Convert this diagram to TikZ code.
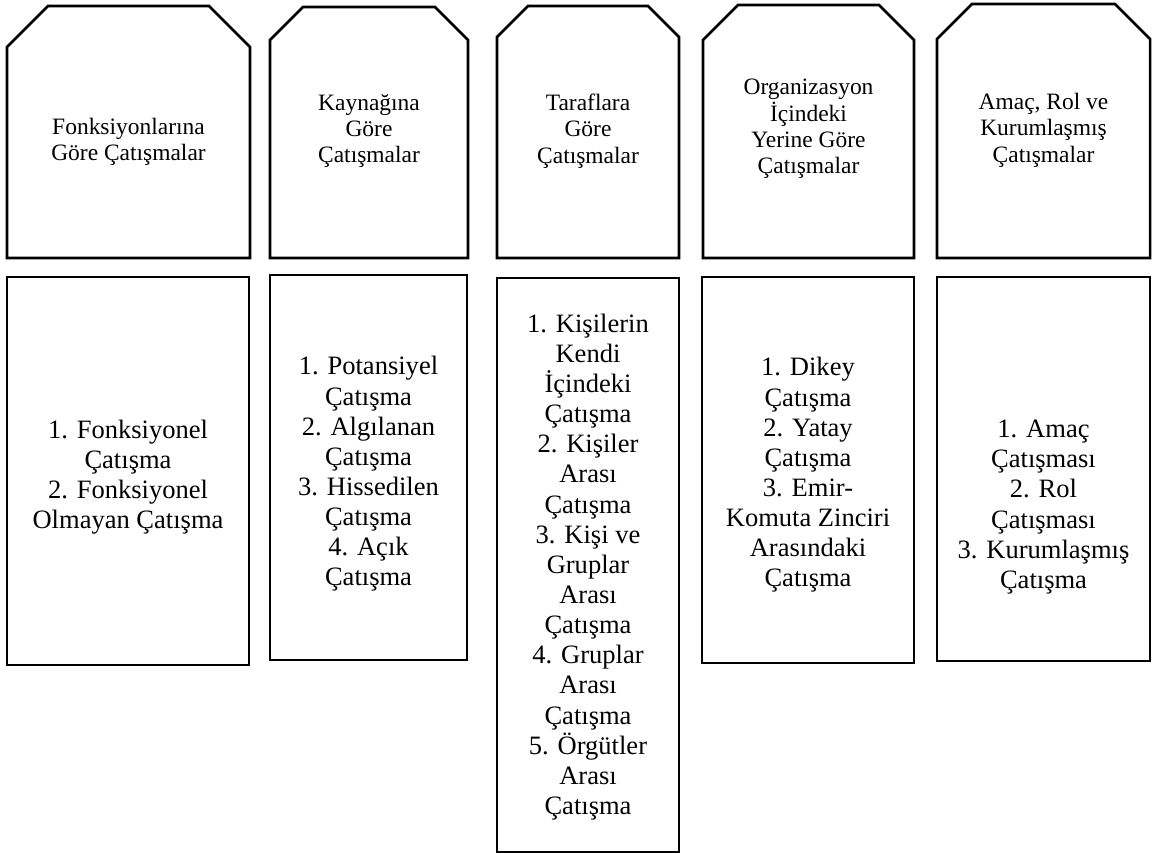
\documentclass[tikz,border=0pt]{standalone}
\usepackage{fontspec}
\setmainfont{Liberation Serif}
\begin{document}
\begin{tikzpicture}[x=0.75pt,y=-0.75pt,
  outline/.style={draw=black,line width=1.9pt,line join=miter},
  headtext/.style={align=center,inner sep=0pt,font=\fontsize{17.6pt}{19.8pt}\selectfont},
  listtext/.style={align=center,inner sep=0pt,font=\fontsize{19.9pt}{22.6pt}\selectfont}]
\useasboundingbox (0,0) rectangle (1152,853);

% header boxes with cut top corners
\draw[outline] (7,258) -- (7,47) -- (48,6) -- (209,6) -- (250,47) -- (250,258) -- cycle;
\draw[outline] (270,258) -- (270,40) -- (303,7) -- (435,7) -- (468,40) -- (468,258) -- cycle;
\draw[outline] (497,258) -- (497,37) -- (528,6) -- (648,6) -- (679,37) -- (679,258) -- cycle;
\draw[outline] (703,258) -- (703,40) -- (738,5) -- (879,5) -- (914,40) -- (914,258) -- cycle;
\draw[outline] (937,258) -- (937,39) -- (972,4) -- (1115,4) -- (1150,39) -- (1150,258) -- cycle;

\node[headtext] (h1) at (128.5,142) {Fonksiyonlarına\\Göre Çatışmalar};
\node[headtext] (h2) at (369,131) {Kaynağına\\Göre\\Çatışmalar};
\node[headtext] (h3) at (588,131) {Taraflara\\Göre\\Çatışmalar};
\node[headtext] (h4) at (808.5,129) {Organizasyon\\İçindeki\\Yerine Göre\\Çatışmalar};
\node[headtext] (h5) at (1043.5,130) {Amaç, Rol ve\\Kurumlaşmış\\Çatışmalar};

% list boxes
\draw[outline] (7,277) rectangle (249,665);
\draw[outline] (270,275) rectangle (467,660);
\draw[outline] (497,278) rectangle (679,852);
\draw[outline] (702,277) rectangle (914,663);
\draw[outline] (937,277) rectangle (1150,661);

\node[listtext] (l1) at (128,477) {1. Fonksiyonel\\Çatışma\\2. Fonksiyonel\\Olmayan Çatışma};
\node[listtext] (l2) at (368.5,474) {1. Potansiyel\\Çatışma\\2. Algılanan\\Çatışma\\3. Hissedilen\\Çatışma\\4. Açık\\Çatışma};
\node[listtext] (l3) at (588,567) {1. Kişilerin\\Kendi\\İçindeki\\Çatışma\\2. Kişiler\\Arası\\Çatışma\\3. Kişi ve\\Gruplar\\Arası\\Çatışma\\4. Gruplar\\Arası\\Çatışma\\5. Örgütler\\Arası\\Çatışma};
\node[listtext] (l4) at (808,475) {1. Dikey\\Çatışma\\2. Yatay\\Çatışma\\3. Emir-\\Komuta Zinciri\\Arasındaki\\Çatışma};
\node[listtext] (l5) at (1043.5,507) {1. Amaç\\Çatışması\\2. Rol\\Çatışması\\3. Kurumlaşmış\\Çatışma};
\end{tikzpicture}
\end{document}
